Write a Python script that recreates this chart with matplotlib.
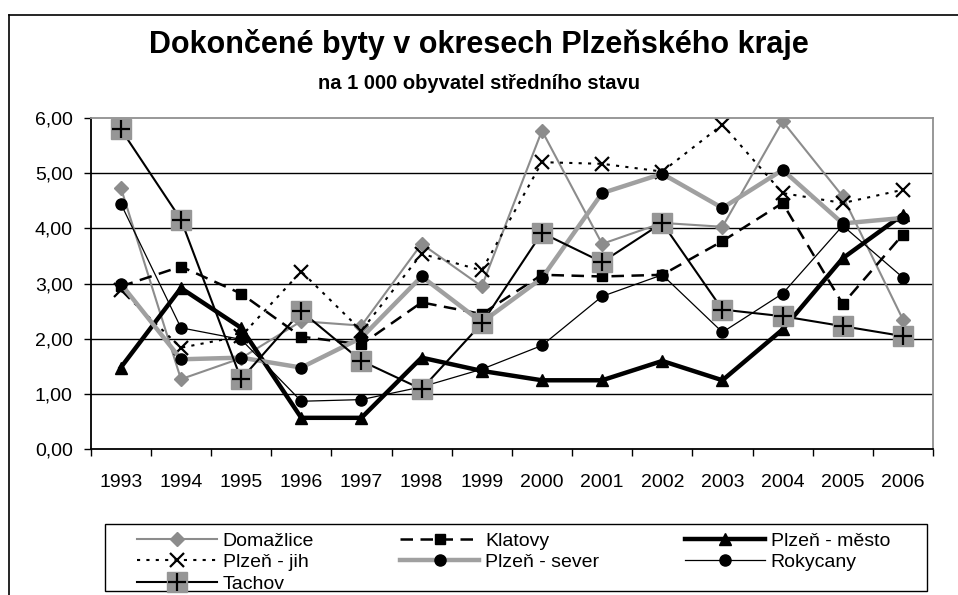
import numpy as np
import matplotlib
matplotlib.use("Agg")
import matplotlib.pyplot as plt
from matplotlib.lines import Line2D
from matplotlib.patches import Rectangle
from matplotlib.legend_handler import HandlerTuple

plt.rcParams["font.family"] = ["Liberation Sans", "DejaVu Sans"]

# --- data -------------------------------------------------------------------
years = ["1993", "1994", "1995", "1996", "1997", "1998", "1999",
         "2000", "2001", "2002", "2003", "2004", "2005", "2006"]
domazlice = [4.74, 1.27, 1.65, 2.32, 2.24, 3.72, 2.95, 5.77, 3.72, 4.10, 4.03, 5.94, 4.58, 2.35]
klatovy = [2.95, 3.31, 2.82, 2.04, 1.90, 2.66, 2.45, 3.16, 3.13, 3.16, 3.77, 4.46, 2.63, 3.89]
plzen_mesto = [1.48, 2.92, 2.20, 0.57, 0.57, 1.66, 1.42, 1.25, 1.25, 1.60, 1.25, 2.17, 3.46, 4.25]
plzen_jih = [2.88, 1.84, 2.05, 3.22, 2.15, 3.54, 3.24, 5.20, 5.17, 5.03, 5.88, 4.64, 4.46, 4.70]
plzen_sever = [3.00, 1.63, 1.66, 1.48, 2.02, 3.13, 2.30, 3.10, 4.64, 4.99, 4.37, 5.06, 4.09, 4.19]
rokycany = [4.45, 2.20, 1.99, 0.87, 0.90, 1.13, 1.45, 1.88, 2.77, 3.16, 2.12, 2.82, 4.05, 3.11]
tachov = [5.80, 4.16, 1.27, 2.50, 1.60, 1.09, 2.28, 3.92, 3.39, 4.10, 2.53, 2.41, 2.23, 2.05]

yticks = [0, 1, 2, 3, 4, 5, 6]
ytick_labels = ["0,00", "1,00", "2,00", "3,00", "4,00", "5,00", "6,00"]

GRAY_THIN = "#8c8c8c"
GRAY_THICK = "#a0a0a0"
GRAY_BOX = "#969696"
W, H = 958, 595

fig = plt.figure(figsize=(9.58, 5.95), dpi=100)
ax = fig.add_axes([90.7 / W, 1 - 449.3 / H, (933 - 90.7) / W, (449.3 - 118) / H])

x = np.arange(len(years))

h_dom, = ax.plot(x, domazlice, color=GRAY_THIN, lw=1.5, marker="D", ms=7,
                 mfc=GRAY_THIN, mec=GRAY_THIN)
h_kla, = ax.plot(x, klatovy, color="black", lw=1.8, ls=(0, (5, 3)), marker="s", ms=7.5,
                 mfc="black", mec="black")
h_pme, = ax.plot(x, plzen_mesto, color="black", lw=3.2, marker="^", ms=9,
                 mfc="black", mec="black")
h_pji, = ax.plot(x, plzen_jih, color="black", lw=1.5, ls=(0, (1.5, 3)), marker="x", ms=10,
                 mew=1.6, mec="black")
h_pse, = ax.plot(x, plzen_sever, color=GRAY_THICK, lw=3.2, marker="o", ms=8,
                 mfc="black", mec="black")
h_rok, = ax.plot(x, rokycany, color="black", lw=0.9, marker="o", ms=8,
                 mfc="black", mec="black")
h_tac, = ax.plot(x, tachov, color="black", lw=1.5, marker="s", ms=15,
                 mfc=GRAY_BOX, mec=GRAY_BOX)
h_tac2, = ax.plot(x, tachov, ls="none", marker="+", ms=13, mew=1.6, mec="black")

ax.set_xlim(-0.5, len(years) - 0.5)
ax.set_ylim(0, 6)
ax.set_xticks(x)
ax.set_xticklabels(years, fontsize=14)
ax.set_xticks(np.arange(-0.5, len(years)), minor=True)
ax.tick_params(axis="x", which="major", length=0, pad=18)
ax.tick_params(axis="x", which="minor", length=5, width=1, color="black", direction="out")
ax.set_yticks(yticks)
ax.set_yticklabels(ytick_labels, fontsize=14)
ax.tick_params(axis="y", length=5, width=1, direction="out", pad=8)

for v in yticks[1:-1]:
    ax.axhline(v, color="black", lw=1, zorder=0.5)

ax.spines["left"].set_color("black")
ax.spines["bottom"].set_color("black")
ax.spines["top"].set_color("#909090")
ax.spines["right"].set_color("#909090")
for s in ax.spines.values():
    s.set_linewidth(1.3)

# titles
fig.text(0.5, 1 - 45 / H, "Dokončené byty v okresech Plzeňského kraje",
         ha="center", va="center", fontsize=22, fontweight="bold")
fig.text(0.5, 1 - 84 / H, "na 1 000 obyvatel středního stavu",
         ha="center", va="center", fontsize=14.5, fontweight="bold")

# outer chart border (left and top visible)
fig.add_artist(Line2D([9 / W, 9 / W], [0, 1 - 15 / H], color="black", lw=1.2))
fig.add_artist(Line2D([9 / W, 1], [1 - 15 / H, 1 - 15 / H], color="black", lw=1.2))

# legend frame
fig.add_artist(Rectangle((105 / W, 1 - 591 / H), (927 - 105) / W, (591 - 524) / H,
                         transform=fig.transFigure, fill=False, ec="black", lw=1.0))

# legend: column-filled order to reproduce the row-wise layout
handles = [h_dom, h_pji, (h_tac, h_tac2), h_kla, h_pse, h_pme, h_rok]
labels = ["Domažlice", "Plzeň - jih", "Tachov", "Klatovy", "Plzeň - sever",
          "Plzeň - město", "Rokycany"]
leg = fig.legend(handles, labels, ncol=3, loc="upper left",
                 bbox_to_anchor=(137 / W, 1 - 594 / H, (890 - 137) / W, (594 - 532) / H),
                 mode="expand", fontsize=14, handlelength=4.1, handletextpad=0.3,
                 labelspacing=0.2, borderpad=0.0, borderaxespad=0.0,
                 frameon=False, handler_map={tuple: HandlerTuple(ndivide=1)})

fig.savefig("out.png", dpi=100)
